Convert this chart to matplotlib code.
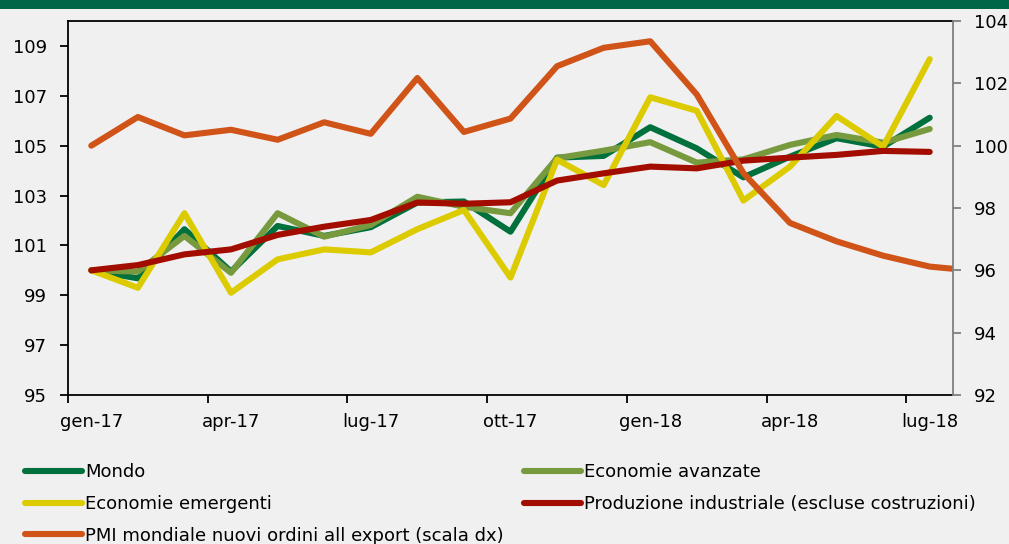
import numpy as np
import matplotlib.pyplot as plt
from matplotlib.patches import Rectangle

# months, gen-17 .. ago-18 (the last PMI point is clipped at the right edge)
mesi = ['gen-17', 'feb-17', 'mar-17', 'apr-17', 'mag-17', 'giu-17', 'lug-17',
        'ago-17', 'set-17', 'ott-17', 'nov-17', 'dic-17', 'gen-18', 'feb-18',
        'mar-18', 'apr-18', 'mag-18', 'giu-18', 'lug-18', 'ago-18']

mondo = [100.0, 99.68, 101.65, 99.95, 101.78, 101.38, 101.73, 102.72, 102.76, 101.55,
         104.52, 104.59, 105.74, 104.89, 103.73, 104.56, 105.30, 104.96, 106.12]
avanzate = [100.0, 99.95, 101.38, 99.9, 102.29, 101.35, 101.82, 102.95, 102.55, 102.29,
            104.50, 104.80, 105.14, 104.32, 104.45, 105.03, 105.43, 105.12, 105.67]
emergenti = [100.0, 99.3, 102.29, 99.1, 100.44, 100.84, 100.72, 101.65, 102.42, 99.71,
             104.44, 103.42, 106.94, 106.40, 102.80, 104.16, 106.19, 104.96, 108.47]
produzione = [100.0, 100.21, 100.64, 100.84, 101.42, 101.75, 102.02, 102.72, 102.67, 102.73,
              103.60, 103.89, 104.16, 104.09, 104.40, 104.52, 104.63, 104.79, 104.75]
pmi = [100.0, 100.92, 100.33, 100.51, 100.19, 100.75, 100.38, 102.17, 100.44, 100.87,
       102.55, 103.14, 103.35, 101.64, 99.12, 97.52, 96.93, 96.47, 96.12, 95.98]

bg = '#f0f0f0'
plt.rcParams['font.family'] = ['DejaVu Sans']
plt.rcParams['font.size'] = 13

fig = plt.figure(figsize=(10.09, 5.44), dpi=100, facecolor=bg)
ax = fig.add_axes([68 / 1009, 1 - 395 / 544, (953 - 68) / 1009, (395 - 21) / 544])
ax.set_facecolor(bg)
ax2 = ax.twinx()

n = len(mondo)
x = np.arange(n)
lw = 4.4
l1, = ax.plot(x, mondo, color='#00703c', lw=lw, solid_capstyle='round', label='Mondo')
l2, = ax.plot(x, avanzate, color='#779a3e', lw=lw, solid_capstyle='round',
              label='Economie avanzate')
l3, = ax.plot(x, emergenti, color='#dccb00', lw=lw, solid_capstyle='round',
              label='Economie emergenti')
l4, = ax.plot(x, produzione, color='#a30d00', lw=lw, solid_capstyle='round',
              label='Produzione industriale (escluse costruzioni)')
l5, = ax2.plot(np.arange(len(pmi)), pmi, color='#d05318', lw=lw, solid_capstyle='round',
               label='PMI mondiale nuovi ordini all export (scala dx)')

ax.set_xlim(-0.5, n - 0.5)
ax.set_ylim(95, 110)
ax2.set_ylim(92, 104)
ax.set_yticks(np.arange(95, 110, 2))
ax2.set_yticks(np.arange(92, 105, 2))

# labels centred on the months, tick marks on the category boundaries
ax.set_xticks(x[::3])
ax.set_xticklabels(mesi[:n:3])
ax.set_xticks(np.arange(-0.5, n - 1, 3), minor=True)
ax.tick_params(axis='x', which='major', length=0, pad=13)
ax.tick_params(axis='x', which='minor', length=6, width=1.3, color='black')
ax.tick_params(axis='y', length=6, width=1.3, pad=9)
ax2.tick_params(axis='y', length=6, width=1.3, color='#808080', pad=9)

for s in ['left', 'bottom', 'top']:
    ax.spines[s].set_linewidth(1.3)
ax.spines['right'].set_visible(False)
for s in ['left', 'bottom', 'top']:
    ax2.spines[s].set_visible(False)
ax2.spines['right'].set_color('#808080')
ax2.spines['right'].set_linewidth(1.3)

# green band at the very top
fig.patches.append(Rectangle((0, 1 - 9 / 544), 1, 9 / 544, transform=fig.transFigure,
                             facecolor='#006648', edgecolor='none'))

fig.legend([l1, l3, l5, l2, l4], [h.get_label() for h in [l1, l3, l5, l2, l4]],
           loc='upper left', bbox_to_anchor=(18 / 1009, 1 - 456 / 544), ncol=2,
           frameon=False, handlelength=3.15, handletextpad=0.15, columnspacing=1.15,
           labelspacing=0.76, borderaxespad=0, fontsize=13)

fig.savefig('out.png', dpi=100, facecolor=bg)
